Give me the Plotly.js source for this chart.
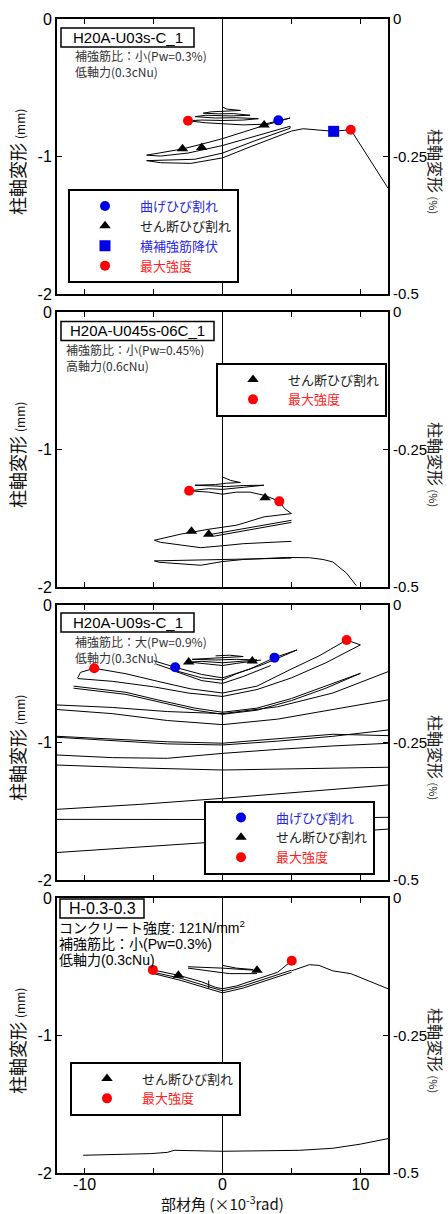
<!DOCTYPE html>
<html><head><meta charset="utf-8">
<script src="https://cdn.plot.ly/plotly-3.0.1.min.js"></script>
<style>html,body{margin:0;padding:0;background:#fff}#chart{width:448px;height:1214px}</style>
</head><body><div id="chart"></div>
<script>
// ---------- DATA ----------
// Panel 1 : H20A-U03s-C_1
const p1LoopX = [0,0.3,1.3,0.2,-0.8,-1.4,-0.3,0.8,2.0,0.6,-1.2,-2.0,-0.5,1.0,2.6,1.5,0.0,-1.5,-2.5,-1.2,0.0,1.5,3.02,4.05,4.9,
  3.0,1.0,0.0,-1.5,-2.9,-4.9,-5.5,-4.5,-2.5,0.0,2.5,4.9,4.9,2.5,0.0,-2.0,-5.5,-4.5,-2.3,0.0,2.0,4.0,5.0,5.85,7.5,8.06,9.3,12];
const p1LoopY = [-0.64,-0.655,-0.665,-0.672,-0.675,-0.685,-0.69,-0.688,-0.70,-0.705,-0.70,-0.71,-0.72,-0.718,-0.725,-0.735,-0.738,-0.735,-0.74,-0.755,-0.762,-0.77,-0.765,-0.74,-0.72,
  -0.775,-0.84,-0.87,-0.91,-0.945,-0.98,-0.99,-0.997,-0.975,-0.92,-0.85,-0.78,-0.795,-0.88,-0.975,-1.02,-1.03,-1.045,-1.05,-1.01,-0.93,-0.85,-0.815,-0.798,-0.812,-0.817,-0.805,-1.23];
const p1FlexX = [4.05], p1FlexY = [-0.737];
const p1ShearX = [3.02,-2.9,-1.51], p1ShearY = [-0.77,-0.943,-0.934];
const p1YieldX = [8.06], p1YieldY = [-0.817];
const p1MaxX = [-2.5,9.3], p1MaxY = [-0.74,-0.805];

// Panel 2 : H20A-U045s-06C_1
const p2LoopX = [0,0.6,1.3,0.3,-0.5,-2.0,-0.6,0.3,1.5,3.0,1.0,0.0,-1.0,-2.42,-1.0,0.0,1.0,2.0,3.09,4.12,4.5,5.0,
  3.0,1.05,-1.0,-3.0,-4.94,-4.5,-3.0,-1.58,0.0,1.5,5.0,null,
  5.0,-1.0,null,5.0,-0.6,null,
  5.0,2.0,0.0,-2.5,-4.94,-4.6,-3.0,-1.58,0.0,1.5,4.65,6.3,7.3,8.0,9.0,9.7];
const p2LoopY = [-1.20,-1.225,-1.24,-1.245,-1.255,-1.26,-1.265,-1.27,-1.262,-1.26,-1.28,-1.29,-1.285,-1.30,-1.31,-1.325,-1.31,-1.31,-1.335,-1.377,-1.43,-1.466,
  -1.49,-1.55,-1.58,-1.615,-1.66,-1.675,-1.695,-1.714,-1.70,-1.685,-1.668,null,
  -1.515,-1.62,null,-1.53,-1.63,null,
  -1.79,-1.795,-1.80,-1.805,-1.81,-1.82,-1.83,-1.842,-1.815,-1.80,-1.785,-1.787,-1.80,-1.818,-1.90,-1.99];
const p2ShearX = [3.09,-2.25,-1.0], p2ShearY = [-1.35,-1.595,-1.617];
const p2MaxX = [-2.42,4.12], p2MaxY = [-1.30,-1.377];

// Panel 3 : H20A-U09s-C_1
const p3LoopX = [-0.5,0.5,1.5,0.5,-1.2,-2.2,-0.5,1.0,2.5,1.5,0,-1.5,-2.45,-1,0,1,2.16,2.8,null,
  -5.0,-3.43,-1.5,0,2,3.77,5.4,5.0,3,1,0,-1.5,-3.5,-4.8,null,
  -3.5,-1.5,0,1.5,3.5,null,
  -10.5,-10.3,-9.3,-7,-4.7,-2.3,0,2.5,4.9,7,9.0,10.0,7.5,5,2.5,0,-2.5,-5,-8,-10.5,null,
  -10.8,-7,-4.7,-2,0,2.5,5,7.5,10.0,7.5,5,2.5,0,-2,-4.7,-7,-10.8,null,
  -12,-8,-4,0,4,8,12,null,
  -12,-8,-4,0,4,8,12,null,
  -12,-8,-4,0,4,8,12,null,
  -12,-8,-4,0,4,8,12,null,
  -12,-8,-4,0,4,8,12,null,
  -12,-6,0,6,12,null,
  -12,-6,0,6,12,null,
  -12,0,12,null,
  -12,-6,0,6,12];
const p3LoopY = [-0.37,-0.365,-0.375,-0.38,-0.385,-0.395,-0.40,-0.395,-0.40,-0.41,-0.42,-0.41,-0.415,-0.43,-0.44,-0.425,-0.407,-0.40,null,
  -0.405,-0.453,-0.505,-0.53,-0.465,-0.383,-0.327,-0.345,-0.43,-0.50,-0.545,-0.53,-0.475,-0.43,null,
  -0.48,-0.55,-0.57,-0.52,-0.44,null,
  -0.53,-0.49,-0.46,-0.50,-0.555,-0.61,-0.64,-0.59,-0.47,-0.37,-0.255,-0.29,-0.42,-0.53,-0.615,-0.665,-0.64,-0.595,-0.555,-0.535,null,
  -0.59,-0.635,-0.69,-0.75,-0.78,-0.75,-0.68,-0.59,-0.497,-0.605,-0.695,-0.765,-0.795,-0.765,-0.705,-0.65,-0.605,null,
  -0.727,-0.745,-0.775,-0.79,-0.74,-0.64,-0.485,null,
  -0.76,-0.79,-0.84,-0.87,-0.83,-0.76,-0.69,null,
  -0.962,-0.985,-1.01,-1.018,-0.99,-0.955,-0.909,null,
  -0.955,-0.975,-0.995,-1.005,-0.975,-0.94,-0.95,null,
  -1.091,-1.11,-1.115,-1.079,-1.05,-1.025,-1.006,null,
  -1.164,-1.185,-1.2,-1.19,-1.18,null,
  -1.486,-1.45,-1.406,-1.36,-1.309,null,
  -1.559,-1.56,-1.544,null,
  -1.8,-1.76,-1.72,-1.67,-1.63];
const p3FlexX = [-3.43,3.77], p3FlexY = [-0.453,-0.383];
const p3ShearX = [-2.45,2.16], p3ShearY = [-0.415,-0.407];
const p3MaxX = [-9.3,9.0], p3MaxY = [-0.46,-0.255];

// Panel 4 : H-0.3-0.3
const p4LoopX = [-2.5,-1,0,1.5,2.5,null, 0,1,2.2,null, -2.5,-1,0.5,2.5,null,
  -5.05,-3.2,-1.5,-0.5,0,1,2.5,4,5.02,null,
  -5.0,-3,-1,0,1.5,3,5,null,
  -5,-3,-1,0,1.5,3,5,null,
  -1,-1,null,
  5,6.3,7,8,9.3,10.5,12,null,
  -10.1,-7,-5.2,-4,-3.5,0,5.6,8,10,12];
const p4LoopY = [-0.50,-0.505,-0.51,-0.52,-0.526,null, -0.49,-0.51,-0.52,null, -0.51,-0.53,-0.55,-0.55,null,
  -0.523,-0.562,-0.61,-0.65,-0.66,-0.64,-0.59,-0.54,-0.456,null,
  -0.54,-0.585,-0.645,-0.675,-0.64,-0.59,-0.525,null,
  -0.55,-0.60,-0.66,-0.69,-0.655,-0.605,-0.54,null,
  -0.60,-0.66,null,
  -0.53,-0.485,-0.49,-0.53,-0.55,-0.60,-0.66,null,
  -1.871,-1.865,-1.859,-1.85,-1.835,-1.842,-1.835,-1.82,-1.79,-1.75];
const p4ShearX = [-3.2,2.5], p4ShearY = [-0.562,-0.526];
const p4MaxX = [-5.05,5.02], p4MaxY = [-0.523,-0.456];

const xTickVals = [-10,0,10];
const xTickText = ['-10','0','10'];
const yLeftTicks = [-2,-1,0];
const yLeftText = ['-2','-1','0'];
const yRightTicks = [-0.5,-0.25,0];
const yRightText = ['-0.5','-0.25','0'];
const specimenNames = ['H20A-U03s-C_1','H20A-U045s-06C_1','H20A-U09s-C_1','H-0.3-0.3'];
const specimenNotes = [
  ['補強筋比：小(Pw=0.3%)','低軸力(0.3cNu)'],
  ['補強筋比：小(Pw=0.45%)','高軸力(0.6cNu)'],
  ['補強筋比：大(Pw=0.9%)','低軸力(0.3cNu)'],
  ['コンクリート強度: 121N/mm<sup>2</sup>','補強筋比：小(Pw=0.3%)','低軸力(0.3cNu)']
];
const legFlex = '曲げひび割れ', legShear = 'せん断ひび割れ', legYield = '横補強筋降伏', legMax = '最大強度';

// ---------- LAYOUT HELPERS ----------
const W=448, H=1214, ML=57, MR=60, MT=19, MB=41;
const PW=W-ML-MR, PH=H-MT-MB;
const tops=[19,312,605,898], PHI=275;
const fx = px => (px-ML)/PW;
const fy = py => 1-(py-MT)/PH;
const CJK = 'Noto Sans CJK JP';
const LAT = 'Liberation Sans, Arial, sans-serif';
const BLUE='#0000e6', RED='#ff0000', TBLUE='rgb(40,40,225)', TRED='rgb(255,30,30)';

const data=[];
const suffix = i => i===0 ? '' : String(i+1);
function lineTrace(i,x,y){
  data.push({type:'scatter',mode:'lines',x:x,y:y,xaxis:'x'+suffix(i),yaxis:'y'+suffix(i),
    line:{color:'#000',width:1},connectgaps:false,showlegend:false,hoverinfo:'skip'});
}
function markTrace(i,x,y,sym,col,name,tcol){
  data.push({type:'scatter',mode:'markers',x:x,y:y,xaxis:'x'+suffix(i),yaxis:'y'+suffix(i),
    marker:{symbol:sym,color:col,size:sym==='square'?11:10,line:{width:0}},
    name:'<span style="color:'+tcol+'">'+name+'</span>',
    legend:'legend'+suffix(i),showlegend:true});
}
lineTrace(0,p1LoopX,p1LoopY);
markTrace(0,p1FlexX,p1FlexY,'circle',BLUE,legFlex,TBLUE);
markTrace(0,p1ShearX,p1ShearY,'triangle-up','#000',legShear,'#222');
markTrace(0,p1YieldX,p1YieldY,'square',BLUE,legYield,TBLUE);
markTrace(0,p1MaxX,p1MaxY,'circle',RED,legMax,TRED);
lineTrace(1,p2LoopX,p2LoopY);
markTrace(1,p2ShearX,p2ShearY,'triangle-up','#000',legShear,'#222');
markTrace(1,p2MaxX,p2MaxY,'circle',RED,legMax,TRED);
lineTrace(2,p3LoopX,p3LoopY);
markTrace(2,p3FlexX,p3FlexY,'circle',BLUE,legFlex,TBLUE);
markTrace(2,p3ShearX,p3ShearY,'triangle-up','#000',legShear,'#222');
markTrace(2,p3MaxX,p3MaxY,'circle',RED,legMax,TRED);
lineTrace(3,p4LoopX,p4LoopY);
markTrace(3,p4ShearX,p4ShearY,'triangle-up','#000',legShear,'#222');
markTrace(3,p4MaxX,p4MaxY,'circle',RED,legMax,TRED);
// empty traces so the right-hand (%) axes are drawn
for(let i=0;i<4;i++){
  data.push({type:'scatter',mode:'lines',x:[],y:[],xaxis:'x'+suffix(i),yaxis:'y'+(i+5),showlegend:false,hoverinfo:'skip'});
}

const layout={width:W,height:H,margin:{l:ML,r:MR,t:MT,b:MB},paper_bgcolor:'#fff',plot_bgcolor:'#fff',
  font:{family:LAT,color:'#000',size:16},annotations:[],shapes:[],showlegend:true};

const legPos=[[68,236],[216,389.5],[204,837.5],[70,1088.5]];
for(let i=0;i<4;i++){
  const s=suffix(i);
  const dom=[fy(tops[i]+PHI),fy(tops[i])];
  layout['xaxis'+s]={domain:[0,1],anchor:'y'+s,range:[-12,12],tickvals:xTickVals,
    ticktext: xTickText,showticklabels:i===3,ticklabelstandoff:-4,
    ticks:'inside',ticklen:5,tickwidth:1,tickcolor:'#000',
    minor:{ticks:'inside',ticklen:5,tickwidth:1,tickcolor:'#000',dtick:5,tick0:0,showgrid:false},
    showline:true,linewidth:2,linecolor:'#000',
    mirror:'ticks',zeroline:true,zerolinecolor:'#000',zerolinewidth:1,showgrid:false,fixedrange:true,
    tickfont:{family:LAT,size:16,color:'#000'}};
  layout['yaxis'+s]={domain:dom,anchor:'x'+s,range:[-2,0],tickvals:yLeftTicks,ticktext:yLeftText,
    ticks:'inside',ticklen:5,tickwidth:1,tickcolor:'#000',showline:true,linewidth:2,linecolor:'#000',
    zeroline:false,showgrid:false,fixedrange:true,tickfont:{family:LAT,size:16,color:'#000'}};
  layout['yaxis'+(i+5)]={overlaying:'y'+s,anchor:'x'+s,side:'right',range:[-0.5,0],tickvals:yRightTicks,
    ticktext:yRightText,ticks:'inside',ticklen:5,tickwidth:1,tickcolor:'#000',showline:true,linewidth:2,
    linecolor:'#000',zeroline:false,showgrid:false,fixedrange:true,showticklabels:true,
    tickfont:{family:LAT,size:15,color:'#000'}};
  layout['legend'+s]={x:fx(legPos[i][0]),y:fy(legPos[i][1]),xanchor:'left',yanchor:'middle',
    bgcolor:'#fff',bordercolor:'#000',borderwidth:2,font:{family:CJK,size:13,color:'#222'},
    itemwidth:60,entrywidthmode:'pixels',entrywidth:100,tracegroupgap:0,itemclick:false,itemdoubleclick:false};
  layout.annotations.push({xref:'paper',yref:'paper',x:fx(17),y:fy(tops[i]+143),textangle:-90,showarrow:false,
    text:'柱軸変形 <span style="font-size:12px">(mm)</span>',font:{family:CJK,size:18,color:'#111'},xanchor:'center',yanchor:'middle'});
  layout.annotations.push({xref:'paper',yref:'paper',x:fx(436),y:fy(tops[i]+153),textangle:90,showarrow:false,
    text:'柱軸変形 <span style="font-size:11px">(%)</span>',font:{family:CJK,size:16,color:'#222'},xanchor:'center',yanchor:'middle'});
}
layout.annotations.push({xref:'paper',yref:'paper',x:fx(222),y:fy(1203),xanchor:'center',yanchor:'middle',showarrow:false,
  text:'部材角 (×10<sup>-3</sup>rad)',font:{family:CJK,size:15,color:'#111'}});

// specimen boxes: [left, top, right, bottom] in page pixels
const boxRects=[[61,28,194,47],[61,321.5,214,340.5],[61,613,194,632],[60,899,144,918]];
const boxFont=[15,15,15,16];
for(let i=0;i<4;i++){
  const r=boxRects[i];
  layout.shapes.push({type:'rect',xref:'paper',yref:'paper',x0:fx(r[0]),x1:fx(r[2]),y0:fy(r[3]),y1:fy(r[1]),
    line:{color:'#000',width:1.5},fillcolor:'#fff',layer:'above'});
  layout.annotations.push({xref:'paper',yref:'paper',x:fx((r[0]+r[2])/2),y:fy((r[1]+r[3])/2),xanchor:'center',yanchor:'middle',
    showarrow:false,text:specimenNames[i],font:{family:LAT,size:boxFont[i],color:'#000'}});
}
const noteLeft=[73,64,73,57];
const noteY=[[56,71.5],[349.5,365],[641.5,657],[927,944,960]];
for(let i=0;i<4;i++){
  specimenNotes[i].forEach((t,j)=>{
    layout.annotations.push({xref:'paper',yref:'paper',x:fx(noteLeft[i]),y:fy(noteY[i][j]),xanchor:'left',yanchor:'middle',
      showarrow:false,text:t,font: i===3?{family:'Liberation Sans, '+CJK,size:14,color:'#000'}:{family:CJK,size:12,color:'#333'}});
  });
}
Plotly.newPlot('chart',data,layout,{staticPlot:true,displayModeBar:false});
</script></body></html>
